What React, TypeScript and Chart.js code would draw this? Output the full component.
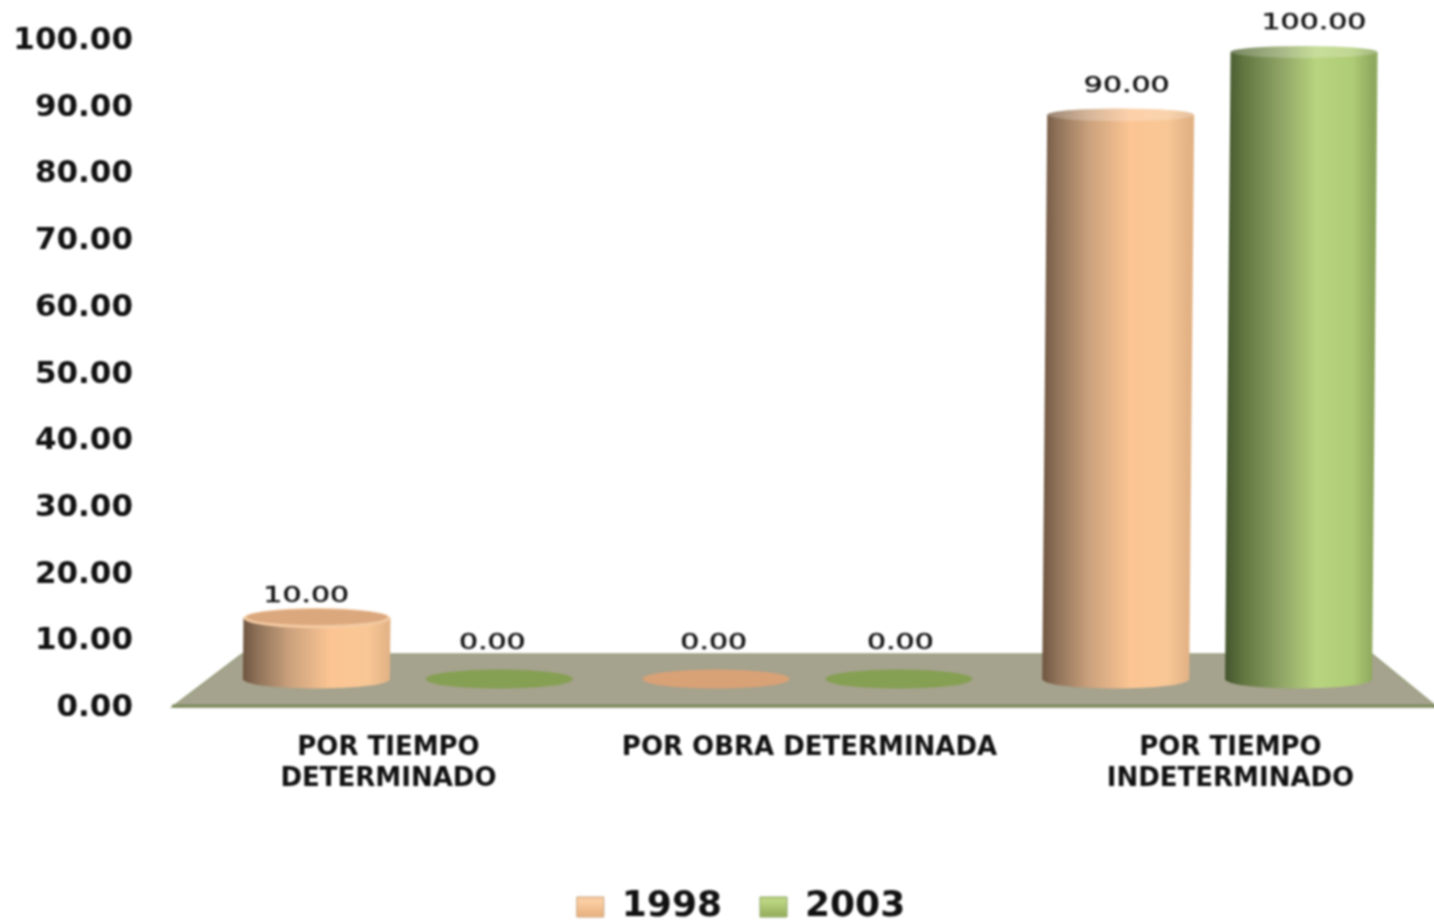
import React, { useEffect, useRef } from "react";
import { Chart, registerables } from "chart.js";

Chart.register(...registerables);

const categories = [["POR TIEMPO", "DETERMINADO"], "POR OBRA DETERMINADA", ["POR TIEMPO", "INDETERMINADO"]];
const series1998 = [10, 0, 90];
const series2003 = [0, 0, 100];
const seriesNames = ["1998", "2003"];

const peachStops: [number, string][] = [[0, "#6e5540"], [0.1, "#8f7259"], [0.32, "#cba27d"], [0.6, "#fcc593"], [0.85, "#f8c795"], [1, "#e2b285"]];
const greenStops: [number, string][] = [[0, "#43542d"], [0.12, "#607540"], [0.38, "#8fa466"], [0.62, "#b8d47e"], [0.87, "#aecb75"], [1, "#8faa5e"]];
const flatColors = ["#d9a176", "#85a052"];
const capColors = ["#dba87e", "#a3bd6e"];
const rimColors = ["#f4cba3", "#c3da90"];

const sideGradient = (ctx: CanvasRenderingContext2D, x0: number, x1: number, stops: [number, string][]) => {
  const g = ctx.createLinearGradient(x0, 0, x1, 0);
  stops.forEach(([o, c]) => g.addColorStop(o, c));
  return g;
};

const layoutPlugin = {
  id: "barFrame",
  afterLayout(chart: any) {
    const xv = chart.scales.x;
    xv.right = 1441; xv.width = xv.right - xv.left; xv.configure();
    const xb = chart.scales.xBars;
    xb.left = 208; xb.right = 1407; xb.width = 1199; xb.configure();
    const yb = chart.scales.yBars;
    yb.top = 52; yb.bottom = 681; yb.height = 629; yb.configure();
  },
  beforeDatasetsDraw(chart: any) {
    const { ctx, scales } = chart;
    const left = scales.x.left;
    const right = scales.x.right;
    const y0 = scales.y.getPixelForValue(0) - 1;
    const back = scales.yBars.getPixelForValue(0) - 27;
    ctx.save();
    ctx.beginPath();
    ctx.moveTo(left - 6, y0);
    ctx.lineTo(left + 64, back);
    ctx.lineTo(right - 69, back);
    ctx.lineTo(right - 4, y0);
    ctx.closePath();
    ctx.fillStyle = "#a5a28d";
    ctx.fill();
    ctx.strokeStyle = "#9aa07e";
    ctx.lineWidth = 1.5;
    ctx.stroke();
    ctx.beginPath();
    ctx.moveTo(left - 6, y0 - 1);
    ctx.lineTo(right - 4, y0 - 1);
    ctx.strokeStyle = "#7c8a5c";
    ctx.lineWidth = 3;
    ctx.stroke();
    ctx.restore();
  },
  beforeDatasetDraw(chart: any, args: any) {
    const { ctx } = chart;
    const i = args.index;
    const stops = i === 0 ? peachStops : greenStops;
    const meta = chart.getDatasetMeta(i);
    const values = chart.data.datasets[i].data;
    meta.data.forEach((bar: any, k: number) => {
      const v = values[k];
      const half = bar.width / 2;
      const xBase = bar.x;
      const xTop = bar.x + v * 0.055;
      const yBase = bar.base - 2;
      const ryBase = 9.5;
      const ryTop = 10.5 - v * 0.045;
      ctx.save();
      if (v === 0) {
        ctx.beginPath();
        ctx.ellipse(xBase, yBase, half, ryBase, 0, 0, Math.PI * 2);
        ctx.fillStyle = flatColors[i];
        ctx.fill();
      } else {
        const side = sideGradient(ctx, xBase - half, xBase + half, stops);
        ctx.beginPath();
        ctx.moveTo(xTop - half, bar.y);
        ctx.lineTo(xBase - half, yBase);
        ctx.ellipse(xBase, yBase, half, ryBase, 0, Math.PI, 0, true);
        ctx.lineTo(xTop + half, bar.y);
        ctx.closePath();
        ctx.fillStyle = side;
        ctx.fill();
        ctx.beginPath();
        ctx.ellipse(xTop, bar.y, half, ryTop, 0, 0, Math.PI * 2);
        if (v > 50) {
          ctx.fillStyle = side;
          ctx.fill();
          ctx.fillStyle = "rgba(255,255,255,0.22)";
          ctx.fill();
        } else {
          ctx.fillStyle = rimColors[i];
          ctx.fill();
          ctx.beginPath();
          ctx.ellipse(xTop, bar.y - 1, half - 3, ryTop - 2, 0, 0, Math.PI * 2);
          ctx.fillStyle = capColors[i];
          ctx.fill();
        }
      }
      ctx.restore();
    });
    return false;
  },
  afterDatasetsDraw(chart: any) {
    const { ctx } = chart;
    chart.data.datasets.forEach((ds: any, i: number) => {
      chart.getDatasetMeta(i).data.forEach((bar: any, k: number) => {
        const v = ds.data[k];
        const x = bar.x + v * 0.055 + (bar.x - 830) * 0.021;
        const y = bar.y - (v === 0 ? 38 : 21 + v * 0.08);
        ctx.save();
        ctx.translate(x, y);
        ctx.scale(1.36, 1);
        ctx.font = "22px 'DejaVu Sans'";
        ctx.fillStyle = "#111";
        ctx.strokeStyle = "#111";
        ctx.lineWidth = 0.5;
        ctx.textAlign = "center";
        ctx.textBaseline = "middle";
        ctx.fillText(v.toFixed(2), 0, 0);
        ctx.strokeText(v.toFixed(2), 0, 0);
        ctx.restore();
      });
    });
  },
};

export default function App() {
  const ref = useRef<HTMLCanvasElement>(null);
  useEffect(() => {
    const canvas = ref.current!;
    const ctx2d = canvas.getContext("2d")!;
    const chart = new Chart(canvas, {
      type: "bar",
      data: {
        labels: categories as any,
        datasets: [
          { label: seriesNames[0], data: series1998, backgroundColor: flatColors[0], xAxisID: "xBars", yAxisID: "yBars", categoryPercentage: 0.915, barPercentage: 0.804 },
          { label: seriesNames[1], data: series2003, backgroundColor: flatColors[1], xAxisID: "xBars", yAxisID: "yBars", categoryPercentage: 0.915, barPercentage: 0.804 },
        ],
      },
      options: {
        animation: false,
        responsive: false,
        devicePixelRatio: 1,
        layout: { padding: { top: 41, right: 0, left: 0, bottom: 0 } },
        plugins: {
          tooltip: { enabled: false },
          legend: {
            position: "bottom",
            labels: {
              boxWidth: 27,
              boxHeight: 20,
              padding: 38,
              color: "#111",
              font: { family: "'DejaVu Sans'", size: 36, weight: "bold" },
              generateLabels(chart: any) {
                const items = Chart.defaults.plugins.legend.labels.generateLabels(chart);
                return items.map((it: any, i: number) => {
                  const g = ctx2d.createLinearGradient(0, 888, 0, 914);
                  g.addColorStop(0, i === 0 ? "#e8b88c" : "#a9c472");
                  g.addColorStop(0.5, i === 0 ? "#fbd0a4" : "#bcd684");
                  g.addColorStop(1, i === 0 ? "#eab484" : "#98b260");
                  return { ...it, fillStyle: g, strokeStyle: i === 0 ? "#c9a27c" : "#8ea665", lineWidth: 1 };
                });
              },
            },
          },
        },
        scales: {
          x: {
            position: "bottom",
            afterFit(scale: any) { scale.height = 143; },
            grid: { display: false, drawTicks: false },
            border: { display: false },
            ticks: {
              padding: 25,
              autoSkip: false,
              maxRotation: 0,
              color: "#111",
              font: { family: "'DejaVu Sans'", size: 26, weight: "bold", lineHeight: 1.19 },
            },
          },
          y: {
            position: "left",
            min: 0,
            max: 100,
            afterFit(scale: any) { scale.width = 178; },
            grid: { display: false, drawTicks: true, tickLength: 45 },
            border: { display: false },
            ticks: {
              stepSize: 10,
              padding: 0,
              color: "#111",
              font: { family: "'DejaVu Sans'", size: 31, weight: "bold" },
              callback: (v: any) => Number(v).toFixed(2),
            },
          },
          xBars: { type: "category", position: "bottom", display: false, offset: true },
          yBars: { type: "linear", position: "left", display: false, min: 0, max: 100 },
        },
      } as any,
      plugins: [layoutPlugin as any],
    });
    return () => chart.destroy();
  }, []);
  return (
    <div style={{ position: "absolute", left: 0, top: 0, width: 1434, height: 920, overflow: "hidden", background: "#fff" }}>
      <canvas ref={ref} width={1482} height={935} style={{ display: "block", filter: "blur(0.8px)" }} />
    </div>
  );
}
